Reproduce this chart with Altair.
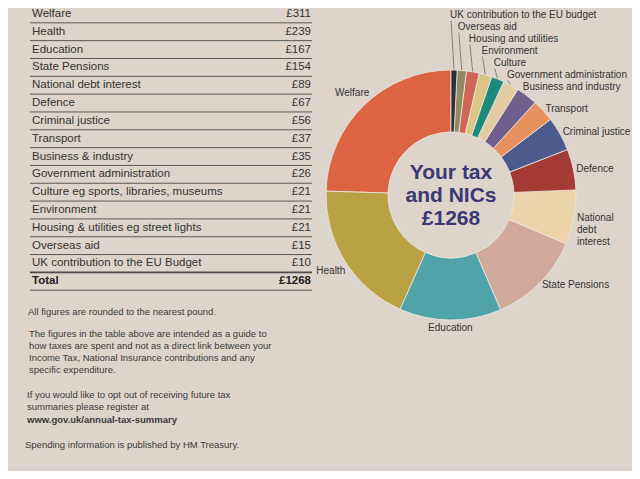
import math
import altair as alt
import pandas as pd

# ---------------- data ----------------
items = [
    "Welfare", "Health", "Education", "State Pensions", "National debt interest",
    "Defence", "Criminal justice", "Transport", "Business & industry",
    "Government administration", "Culture eg sports, libraries, museums",
    "Environment", "Housing & utilities eg street lights", "Overseas aid",
    "UK contribution to the EU Budget",
]
amounts = [311, 239, 167, 154, 89, 67, 56, 37, 35, 26, 21, 21, 21, 15, 10]
total_label = "Total"
total_amount = 1268
pie_labels = [
    "Welfare", "Health", "Education", "State Pensions", "National\ndebt\ninterest",
    "Defence", "Criminal justice", "Transport", "Business and industry",
    "Government administration", "Culture", "Environment",
    "Housing and utilities", "Overseas aid", "UK contribution to the EU budget",
]
slice_colors = [
    "#dc6442", "#b9a244", "#4fa3a9", "#d1aa9c", "#ebd3aa",
    "#a33a33", "#4c5b8c", "#e8915f", "#6f5f8d",
    "#e3cba4", "#1c8a7b", "#dcc486",
    "#cf6656", "#8f8b5e", "#2d2f3a",
]
center_lines = ["Your tax", "and NICs", f"£{total_amount}"]
footer_note = ["All figures are rounded to the nearest pound."]
footer_guide = [
    "The figures in the table above are intended as a guide to",
    "how taxes are spent and not as a direct link between your",
    "Income Tax, National Insurance contributions and any",
    "specific expenditure.",
]
footer_optout = [
    "If you would like to opt out of receiving future tax",
    "summaries please register at",
]
footer_url = ["www.gov.uk/annual-tax-summary"]
footer_source = ["Spending information is published by HM Treasury."]

# ---------------- style / layout ----------------
W, H = 624, 463
FONT = "Liberation Sans"
INK = "#333333"
BG = "#ddd5cb"
TITLE_INK = "#3c3874"
cx, cy = 443.0, 187.0
R_OUT, R_IN = 125, 63

# ---------------- table ----------------
row_order = items + [total_label]
table_df = pd.DataFrame({
    "item": row_order,
    "amount": [f"£{v}" for v in amounts + [total_amount]],
    "total": [0] * len(items) + [1],
})
band = alt.Scale(type="band", domain=row_order, range=[-3.0, 282.2],
                 paddingInner=0, paddingOuter=0)
y_mid = alt.Y("item:N", scale=band, axis=None, bandPosition=0.5)
y_bot = alt.Y("item:N", scale=band, axis=None, bandPosition=1)

base_t = alt.Chart(table_df)
t_rules = base_t.mark_rule(color="#4a4a4a").encode(
    x=alt.value(22), x2=alt.value(304), y=y_bot,
    strokeWidth=alt.condition(alt.datum.item == items[-1], alt.value(1.8), alt.value(0.9)),
)
t_labels = base_t.transform_filter("datum.total == 0").mark_text(
    align="left", baseline="middle", font=FONT, fontSize=11.5, color=INK
).encode(x=alt.value(24), y=y_mid, text="item:N")
t_values = base_t.transform_filter("datum.total == 0").mark_text(
    align="right", baseline="middle", font=FONT, fontSize=11.5, color=INK
).encode(x=alt.value(303), y=y_mid, text="amount:N")
t_total_l = base_t.transform_filter("datum.total == 1").mark_text(
    align="left", baseline="middle", font=FONT, fontSize=11.5, fontWeight="bold", color="#222"
).encode(x=alt.value(24), y=y_mid, text="item:N")
t_total_v = base_t.transform_filter("datum.total == 1").mark_text(
    align="right", baseline="middle", font=FONT, fontSize=11.5, fontWeight="bold", color="#222"
).encode(x=alt.value(303), y=y_mid, text="amount:N")

# ---------------- donut ----------------
n = len(items)
pie_df = pd.DataFrame({
    "label": pie_labels,
    "amount": amounts,
    "seq": [n - 1 - i for i in range(n)],  # clockwise from 12 o'clock: smallest first
})
arcs = alt.Chart(pie_df).mark_arc(
    innerRadius=R_IN, outerRadius=R_OUT, stroke="#efe8e0", strokeWidth=0.8
).encode(
    theta=alt.Theta("amount:Q", stack=True),
    order=alt.Order("seq:Q", sort="ascending"),
    color=alt.Color("label:N", scale=alt.Scale(domain=pie_labels, range=slice_colors), legend=None),
    x=alt.value(cx), y=alt.value(cy),
)

# label layout derived from the slice angles
tot = sum(amounts)
geo = []
cum = 0
for i in reversed(range(n)):
    a = (cum + amounts[i] / 2) / tot * 2 * math.pi
    cum += amounts[i]
    geo.append((i, a))

lab_rows, lead_rows = [], []
placed = {}
for i, a in geo:
    if a < math.pi / 4:
        continue
    if a < math.radians(170):
        r, al = R_OUT + 3, "left"
    elif a < math.radians(190):
        r, al = R_OUT + 8, "center"
    else:
        r, al = R_OUT + 17, "center"
    lx = cx + r * math.sin(a)
    ly = cy - r * math.cos(a)
    placed[i] = ly
    lab_rows.append({"label": pie_labels[i], "lx": lx, "ly": ly, "align": al})

top_group = sorted([(i, a) for i, a in geo if a < math.pi / 4], key=lambda t: -t[1])
first_outer = min((a, i) for i, a in geo if a >= math.pi / 4)[1]
prev = placed[first_outer]
for i, a in top_group:
    ax = cx + R_OUT * math.sin(a)
    ay = cy - R_OUT * math.cos(a)
    ly = min(ay - 9, prev - 12)
    prev = ly
    lab_rows.append({"label": pie_labels[i], "lx": ax - 4, "ly": ly, "align": "left"})
    lead_rows.append({"x1": ax, "y1": ay + 1, "x2": ax - 3, "y2": ly + 6})

lab_df = pd.DataFrame(lab_rows)
lead_df = pd.DataFrame(lead_rows)

LFS = 10
leads = alt.Chart(lead_df).mark_rule(color="#6e6a66", strokeWidth=0.8).encode(
    x=alt.X("x1:Q", scale=None, axis=None), y=alt.Y("y1:Q", scale=None, axis=None),
    x2="x2:Q", y2="y2:Q",
)
lab_base = alt.Chart(lab_df)
lab_left = lab_base.transform_filter("datum.align == 'left'").mark_text(
    align="left", baseline="middle", font=FONT, fontSize=LFS, color=INK, lineBreak="\n", lineHeight=12
).encode(x=alt.X("lx:Q", scale=None, axis=None), y=alt.Y("ly:Q", scale=None, axis=None), text="label:N")
lab_center = lab_base.transform_filter("datum.align == 'center'").mark_text(
    align="center", baseline="middle", font=FONT, fontSize=LFS, color=INK
).encode(x=alt.X("lx:Q", scale=None, axis=None), y=alt.Y("ly:Q", scale=None, axis=None), text="label:N")

one = pd.DataFrame({"k": [0]})
CFS, CLH = 21, 23
center_text = alt.Chart(one).mark_text(
    align="center", baseline="top", font=FONT, fontSize=CFS, fontWeight="bold",
    color=TITLE_INK, lineHeight=CLH
).encode(x=alt.value(cx), y=alt.value(cy - CLH - 0.5 * CFS), text=alt.value(center_lines))

# ---------------- footer ----------------
FFS = 9.5
def footer(lines, x, y_center, bold=False):
    return alt.Chart(one).mark_text(
        align="left", baseline="top", font=FONT, fontSize=FFS,
        fontWeight="bold" if bold else "normal", color="#3a3a3a", lineHeight=12
    ).encode(x=alt.value(x), y=alt.value(y_center - 0.53 * FFS), text=alt.value(lines))

f1 = footer(footer_note, 20, 304)
f2 = footer(footer_guide, 21, 326)
f3 = footer(footer_optout, 19, 387)
f4 = footer(footer_url, 19, 412, bold=True)
f5 = footer(footer_source, 17, 437)

chart = alt.layer(
    t_rules, t_labels, t_values, t_total_l, t_total_v,
    leads, arcs, lab_left, lab_center, center_text,
    f1, f2, f3, f4, f5,
).resolve_scale(x="independent", y="independent").properties(
    width=W, height=H, background=BG, padding=0,
    autosize=alt.AutoSizeParams(type="none"),
).configure_view(strokeWidth=0)

chart.save("out.html", embed_options={"renderer": "svg", "actions": False})
